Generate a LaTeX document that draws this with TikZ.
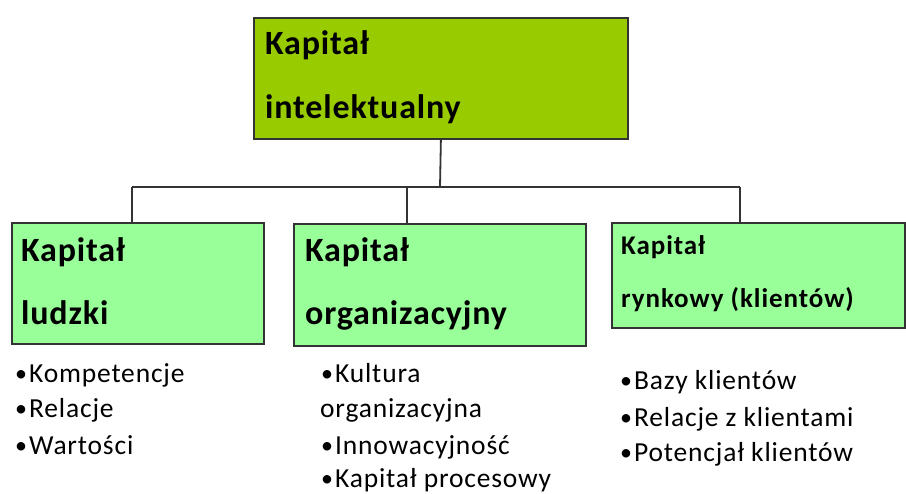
\documentclass[tikz,border=0pt]{standalone}
\usepackage{fontspec}
\setmainfont{Carlito}
\definecolor{topgreen}{HTML}{99CC00}
\definecolor{boxgreen}{HTML}{99FF99}
\definecolor{edge}{HTML}{333333}
\newcommand\mybul{{\fontsize{24}{24}\selectfont\raisebox{1pt}{•}}\hspace{2pt}}
\begin{document}
\begin{tikzpicture}[x=1pt,y=-1pt,
  box/.style={draw=edge, line width=1.8pt, anchor=north west, inner sep=0pt},
  bigtxt/.style={anchor=base west, inner sep=0pt, font=\fontsize{34}{34}\selectfont\bfseries\addfontfeature{LetterSpace=2.5}},
  midtxt/.style={anchor=base west, inner sep=0pt, font=\fontsize{27}{27}\selectfont\bfseries\addfontfeature{LetterSpace=3.5}},
  itemtxt/.style={anchor=base west, inner sep=0pt, font=\fontsize{27.5}{27.5}\selectfont\addfontfeature{LetterSpace=3}},
  conn/.style={draw=edge, line width=1.8pt}]
\useasboundingbox (0,0) rectangle (906,494);
% boxes
\node[box, fill=topgreen, minimum width=374pt, minimum height=121pt] (top) at (253,17) {};
\node[box, fill=boxgreen, minimum width=252pt, minimum height=121pt] (left) at (11,222) {};
\node[box, fill=boxgreen, minimum width=292pt, minimum height=122pt] (mid) at (293,223) {};
\node[box, fill=boxgreen, minimum width=293pt, minimum height=105pt] (right) at (611,222) {};
% box texts
\node[bigtxt] (t1) at (265,55) {Kapitał};
\node[bigtxt] (t2) at (265,119) {intelektualny};
\node[bigtxt] (l1) at (21,262) {Kapitał};
\node[bigtxt] (l2) at (21,325) {ludzki};
\node[bigtxt] (m1) at (305,262) {Kapitał};
\node[bigtxt] (m2) at (305,325) {organizacyjny};
\node[midtxt] (r1) at (621,255) {Kapitał};
\node[midtxt] (r2) at (621,308) {rynkowy (klientów)};
% connectors
\coordinate (bL) at (132,187);
\coordinate (bM) at (407,187);
\coordinate (bR) at (740,187);
\coordinate (bT) at (440,187);
\draw[conn] (top.south) -- (bT);
\draw[conn] (bL) -- (bR);
\draw[conn] (bL) -- (bL |- left.north);
\draw[conn] (bM) -- (bM |- mid.north);
\draw[conn] (bR) -- (bR |- right.north);
% lists
\node[itemtxt] (a1) at (15,383) {\mybul Kompetencje};
\node[itemtxt] (a2) at (15,418) {\mybul Relacje};
\node[itemtxt] (a3) at (15,455) {\mybul Wartości};
\node[itemtxt] (b1) at (321,383) {\mybul Kultura};
\node[itemtxt] (b2) at (320,418) {organizacyjna};
\node[itemtxt] (b3) at (321,455) {\mybul Innowacyjność};
\node[itemtxt] (b4) at (321,488) {\mybul Kapitał procesowy};
\node[itemtxt] (c1) at (620,390) {\mybul Bazy klientów};
\node[itemtxt] (c2) at (620,427) {\mybul Relacje z klientami};
\node[itemtxt] (c3) at (620,462) {\mybul Potencjał klientów};
\end{tikzpicture}
\end{document}
